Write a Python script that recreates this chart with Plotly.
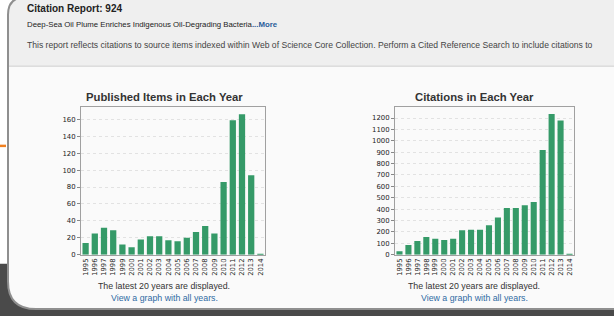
import plotly.graph_objects as go

years = [str(y) for y in range(1995, 2015)]
published_items = [14, 25, 32, 29, 12, 9, 18, 22, 22, 17, 16, 20, 27, 34, 25, 86, 159, 166, 94, 1]
citations = [30, 85, 120, 155, 140, 130, 140, 215, 220, 220, 258, 328, 410, 410, 435, 462, 920, 1235, 1178, 5]
left_ticks = list(range(0, 161, 20))
right_ticks = list(range(0, 1201, 100))

W, H = 614, 317
def X(p): return p / W
def Y(p): return 1 - p / H

FONT = "Liberation Sans, Arial, sans-serif"
BAR = "#359a68"

fig = go.Figure()
fig.add_trace(go.Bar(x=years, y=published_items, marker=dict(color=BAR, line=dict(width=0)),
                     xaxis="x", yaxis="y", showlegend=False))
fig.add_trace(go.Bar(x=years, y=citations, marker=dict(color=BAR, line=dict(width=0)),
                     xaxis="x2", yaxis="y2", showlegend=False))

panel_outline = (f"M {X(8)},{Y(15)} Q {X(8)},{Y(-3)} {X(26)},{Y(-3)} L {X(620)},{Y(-3)} "
                 f"L {X(620)},{Y(313)} L {X(36)},{Y(313)} Q {X(8)},{Y(313)} {X(8)},{Y(285)} Z")
header = (f"M {X(8)},{Y(15)} Q {X(8)},{Y(-3)} {X(26)},{Y(-3)} L {X(620)},{Y(-3)} "
          f"L {X(620)},{Y(67)} L {X(8)},{Y(67)} Z")

shapes = [
    dict(type="rect", xref="paper", yref="paper", x0=X(0), x1=X(620), y0=Y(267), y1=Y(320),
         fillcolor="#4a4a4a", line=dict(width=0), layer="below"),
    dict(type="rect", xref="paper", yref="paper", x0=X(0), x1=X(6), y0=Y(146.5), y1=Y(149),
         fillcolor="#f08020", line=dict(width=0), layer="below"),
    dict(type="path", xref="paper", yref="paper", path=panel_outline,
         fillcolor="#fafafa", line=dict(width=0), layer="below"),
    dict(type="path", xref="paper", yref="paper", path=header,
         fillcolor="#efefef", line=dict(width=0), layer="below"),
    dict(type="line", xref="paper", yref="paper", x0=X(8), x1=X(620), y0=Y(67), y1=Y(67),
         line=dict(color="#cfcfcf", width=1), layer="below"),
    dict(type="path", xref="paper", yref="paper", path=panel_outline,
         fillcolor="rgba(0,0,0,0)", line=dict(color="#8f8f8f", width=2), layer="below"),
]

def ann(text, x, y, size, color="#333333", bold=False, anchor="left"):
    t = f"<b>{text}</b>" if bold else text
    return dict(text=t, x=X(x), y=Y(y), xref="paper", yref="paper", xanchor=anchor,
                yanchor="middle", showarrow=False, font=dict(family=FONT, size=size, color=color))

annotations = [
    ann("Citation Report: 924", 25, 9, 10, "#222222", True),
    ann("Deep-Sea Oil Plume Enriches Indigenous Oil-Degrading Bacteria"
        "<span style='color:#2a5d9a'><b>...More</b></span>", 25, 24.5, 7.8, "#222222"),
    ann("This report reflects citations to source items indexed within Web of Science Core Collection. "
        "Perform a Cited Reference Search to include citations to",
        25, 46, 8.6, "#444444"),
    ann("Published Items in Each Year", 164, 98, 11.3, "#333333", True, "center"),
    ann("Citations in Each Year", 474, 98, 11.3, "#333333", True, "center"),
    ann("The latest 20 years are displayed.", 164, 290, 8.8, "#333333", False, "center"),
    ann("View a graph with all years.", 164, 301.5, 8.8, "#2f6aa3", False, "center"),
    ann("The latest 20 years are displayed.", 474, 290, 8.8, "#333333", False, "center"),
    ann("View a graph with all years.", 474, 301.5, 8.8, "#2f6aa3", False, "center"),
]

def xaxis(domain, anchor):
    return dict(domain=domain, anchor=anchor, type="category", tickangle=-90,
                tickfont=dict(family="DejaVu Sans", size=6.8, color="#222"),
                showline=True, linecolor="#a0a0a0", mirror=True, showgrid=False,
                ticks="", ticklen=0)

def yaxis(domain, anchor, rng, tickvals):
    return dict(domain=domain, anchor=anchor, range=rng, tickvals=tickvals,
                tickfont=dict(family="DejaVu Sans", size=6.9, color="#222"),
                ticks="outside", ticklen=3, tickcolor="#888", showline=True, linecolor="#a0a0a0",
                mirror=True, showgrid=True, gridcolor="#e2e2e2", griddash="dot", gridwidth=1,
                zeroline=False)

ydom = [Y(258), Y(108)]
fig.update_layout(
    width=W, height=H, margin=dict(l=0, r=0, t=0, b=0),
    paper_bgcolor="#ffffff", plot_bgcolor="#bdbdbd",
    bargap=0.32, shapes=shapes, annotations=annotations,
    xaxis=xaxis([X(81), X(265)], "y"),
    yaxis=yaxis(ydom, "x", [0, 175], left_ticks),
    xaxis2=xaxis([X(395), X(574)], "y2"),
    yaxis2=yaxis(ydom, "x2", [0, 1300], right_ticks),
    font=dict(family=FONT),
)

fig.write_html("out.html", config={"displayModeBar": False},
               post_script="document.body.style.margin='0px';document.body.style.overflow='hidden';")
